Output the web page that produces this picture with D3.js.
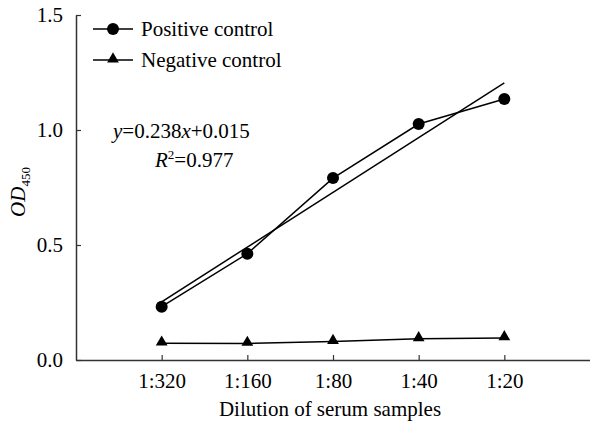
<!DOCTYPE html>
<html>
<head>
<meta charset="utf-8">
<script src="https://cdn.jsdelivr.net/npm/d3@7"></script>
<style>
  body { margin: 0; background: #fff; }
</style>
</head>
<body>
<div id="chart"></div>
<script>
// data
const dilutions = ['1:320', '1:160', '1:80', '1:40', '1:20']
const positive = [0.232, 0.462, 0.791, 1.026, 1.135]
const negative = [0.073, 0.072, 0.080, 0.092, 0.096]
const yTicks = [0, 0.5, 1.0, 1.5]
const fitSlope = 0.238
const fitIntercept = 0.015
const fitR2 = 0.977

const width = 590
const height = 424
const margin = { top: 15, right: 0, bottom: 64, left: 76 }
const serif = "'Liberation Serif', 'Times New Roman', Tinos, 'DejaVu Serif', serif"

const svg = d3.select('#chart')
  .append('svg')
  .attr('width', width)
  .attr('height', height)
  .attr('font-family', serif)

const x = d3.scalePoint()
  .domain(dilutions)
  .range([margin.left, width - margin.right])
  .padding(1)

const y = d3.scaleLinear()
  .domain([0, 1.5])
  .range([height - margin.bottom, margin.top])

// axes, ticks point inward
const xAxis = svg.append('g')
  .attr('transform', `translate(0,${height - margin.bottom})`)
  .call(d3.axisBottom(x).tickSizeInner(-5).tickSizeOuter(0).tickPadding(13))
  .attr('font-family', serif)
  .attr('font-size', 21)
xAxis.select('.domain').attr('stroke', '#333').attr('stroke-width', 1.5)
xAxis.selectAll('.tick line').attr('stroke', '#333').attr('stroke-width', 1.2)

const yAxis = svg.append('g')
  .attr('transform', `translate(${margin.left},0)`)
  .call(d3.axisLeft(y).tickValues(yTicks).tickFormat(d3.format('.1f'))
    .tickSizeInner(-5).tickSizeOuter(0).tickPadding(13))
  .attr('font-family', serif)
  .attr('font-size', 21)
yAxis.select('.domain').attr('stroke', '#333').attr('stroke-width', 1.5)
yAxis.selectAll('.tick line').attr('stroke', '#333').attr('stroke-width', 1.2)

// axis titles
svg.append('text')
  .attr('x', (margin.left + width) / 2 - 3)
  .attr('y', 416)
  .attr('text-anchor', 'middle')
  .attr('font-size', 21)
  .text('Dilution of serum samples')

const yTitle = svg.append('text')
  .attr('transform', 'translate(25,192) rotate(-90)')
  .attr('text-anchor', 'middle')
  .attr('font-size', 21)
yTitle.append('tspan').attr('font-style', 'italic').text('OD')
yTitle.append('tspan').attr('dy', 5).attr('font-size', 13).text('450')

// regression line
const fitX = [dilutions[0], dilutions[dilutions.length - 1]]
svg.append('path')
  .attr('fill', 'none')
  .attr('stroke', '#000')
  .attr('stroke-width', 1.5)
  .attr('d', d3.line()(fitX.map(d => [x(d), y(fitSlope * (dilutions.indexOf(d) + 1) + fitIntercept)])))

const line = d3.line()
  .x((d, i) => x(dilutions[i]))
  .y(d => y(d))

svg.append('path')
  .attr('fill', 'none')
  .attr('stroke', '#000')
  .attr('stroke-width', 1.5)
  .attr('d', line(positive))

svg.append('path')
  .attr('fill', 'none')
  .attr('stroke', '#000')
  .attr('stroke-width', 1.5)
  .attr('d', line(negative))

svg.selectAll('circle.pos')
  .data(positive)
  .join('circle')
  .attr('class', 'pos')
  .attr('cx', (d, i) => x(dilutions[i]))
  .attr('cy', d => y(d))
  .attr('r', 6)
  .attr('fill', '#000')

const tri = d3.symbol().type(d3.symbolTriangle).size(60)
svg.selectAll('path.neg')
  .data(negative)
  .join('path')
  .attr('class', 'neg')
  .attr('transform', (d, i) => `translate(${x(dilutions[i])},${y(d) - 1})`)
  .attr('d', tri)
  .attr('fill', '#000')

// legend
const legend = svg.append('g')
const items = [
  { label: 'Positive control', sym: 'circle', y: 29 },
  { label: 'Negative control', sym: 'triangle', y: 60 },
]
items.forEach(it => {
  legend.append('line')
    .attr('x1', 93).attr('x2', 133)
    .attr('y1', it.y).attr('y2', it.y)
    .attr('stroke', '#000').attr('stroke-width', 1.5)
  if (it.sym === 'circle') {
    legend.append('circle').attr('cx', 113).attr('cy', it.y).attr('r', 6).attr('fill', '#000')
  } else {
    legend.append('path').attr('transform', `translate(113,${it.y - 1})`).attr('d', tri).attr('fill', '#000')
  }
  legend.append('text')
    .attr('x', 141)
    .attr('y', it.y + 7)
    .attr('font-size', 21)
    .text(it.label)
})

// fit equation
const eq = svg.append('text').attr('x', 113).attr('y', 138).attr('font-size', 21)
eq.append('tspan').attr('font-style', 'italic').text('y')
eq.append('tspan').text('=' + fitSlope)
eq.append('tspan').attr('font-style', 'italic').text('x')
eq.append('tspan').text('+' + d3.format('.3f')(fitIntercept))

const r2 = svg.append('text').attr('x', 155).attr('y', 167).attr('font-size', 21)
r2.append('tspan').attr('font-style', 'italic').text('R')
r2.append('tspan').attr('dy', -8).attr('font-size', 13).text('2')
r2.append('tspan').attr('dy', 8).text('=' + fitR2)
</script>
</body>
</html>
